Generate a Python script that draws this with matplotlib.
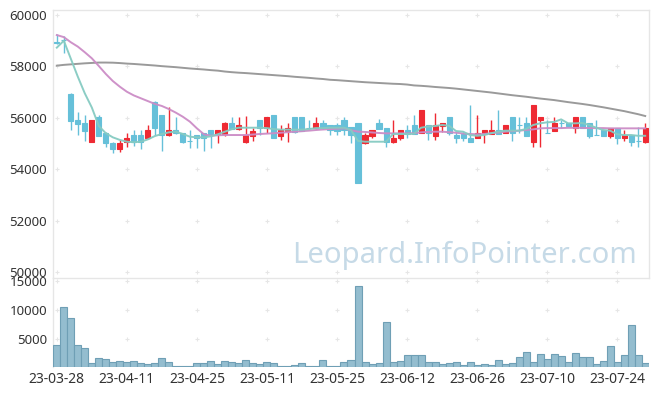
import matplotlib
matplotlib.use("Agg")
import matplotlib.pyplot as plt
import numpy as np

dates = ["23-03-28","23-03-29","23-03-30","23-03-31",
         "23-04-03","23-04-04","23-04-05","23-04-06","23-04-07",
         "23-04-10","23-04-11","23-04-12","23-04-13","23-04-14",
         "23-04-17","23-04-18","23-04-19","23-04-20","23-04-21",
         "23-04-24","23-04-25","23-04-26","23-04-27","23-04-28",
         "23-05-02","23-05-03","23-05-04",
         "23-05-08","23-05-09","23-05-10","23-05-11","23-05-12",
         "23-05-15","23-05-16","23-05-17","23-05-18","23-05-19",
         "23-05-22","23-05-23","23-05-24","23-05-25","23-05-26",
         "23-05-30","23-05-31","23-06-01","23-06-02",
         "23-06-05","23-06-07","23-06-08","23-06-09",
         "23-06-12","23-06-13","23-06-14","23-06-15","23-06-16",
         "23-06-19","23-06-20","23-06-21","23-06-22","23-06-23",
         "23-06-26","23-06-27","23-06-28","23-06-29","23-06-30",
         "23-07-03","23-07-04","23-07-05","23-07-06","23-07-07",
         "23-07-10","23-07-11","23-07-12","23-07-13","23-07-14",
         "23-07-17","23-07-18","23-07-19","23-07-20","23-07-21",
         "23-07-24","23-07-25","23-07-26","23-07-27","23-07-28"]

open_ = [58950, 59040, 56930, 55920, 55810, 55070, 56040, 55400, 55010, 54800,
         55070, 55330, 55330, 55200, 56630, 56110, 55330, 55525, 55400, 55100,
         55330, 55395, 55525, 55370, 55370, 55785, 55565, 55070, 55300, 55915,
         55590, 56110, 55290, 55500, 56020, 56020, 55600, 55590, 55785, 55720,
         55720, 55915, 55655, 55785, 55010, 55300, 55785, 55590, 55070, 55200,
         55525, 55720, 55395, 55720, 55300, 55690, 56020, 55330, 55370, 55225,
         55200, 55360, 55360, 55525, 55395, 56020, 55720, 55785, 55070, 55915,
         55400, 55500, 55785, 55810, 55590, 56020, 55785, 55350, 55525, 55290,
         55615, 55200, 55330, 55100, 55070]
high = [59280, 59180, 56980, 56220, 56110, 55930, 56110, 55460, 55050, 55130,
        55400, 55530, 55530, 55720, 56650, 56110, 56410, 56020, 55420, 55525,
        55330, 55395, 55525, 55525, 55850, 56020, 56020, 56080, 55590, 55915,
        56020, 56110, 55720, 55785, 56020, 56020, 55915, 56020, 55915, 55720,
        55785, 56020, 55655, 55785, 55400, 55525, 55940, 55590, 55915, 55525,
        55720, 56110, 56300, 55720, 56200, 55785, 56020, 55460, 55460, 56500,
        56110, 55525, 55915, 56300, 55720, 56020, 56020, 56020, 56500, 56020,
        55915, 56020, 55915, 55810, 56020, 56020, 55785, 55900, 55525, 55615,
        55615, 55525, 55330, 55660, 55810]
low = [58880, 58520, 55520, 55330, 55110, 55050, 55290, 54880, 54620, 54680,
       54880, 54900, 54800, 55180, 55330, 54720, 55300, 55380, 55010, 54810,
       54810, 54710, 54810, 55010, 55300, 55560, 55540, 55010, 55100, 55330,
       55400, 55200, 55120, 55070, 55400, 55500, 55590, 55560, 55560, 55330,
       55330, 55330, 55010, 53475, 55000, 55200, 55565, 54880, 55010, 55130,
       55200, 55360, 55395, 55140, 55140, 55460, 55330, 55010, 55100, 55070,
       55200, 55010, 55360, 55360, 55395, 55100, 55400, 55290, 54880, 54880,
       55400, 55480, 55600, 55690, 55400, 55590, 55200, 55330, 55290, 55200,
       55000, 55100, 54900, 54880, 55010]
close = [58900, 59030, 55890, 55760, 55500, 55915, 55300, 55010, 54800, 55010,
         55215, 55070, 55070, 55525, 55590, 55330, 55525, 55400, 55070, 55100,
         55200, 55200, 55360, 55525, 55785, 55565, 55720, 55330, 55500, 55590,
         56020, 55200, 55525, 55615, 55460, 55500, 55600, 55810, 55590, 55525,
         55500, 55525, 55330, 53480, 55330, 55525, 55565, 55050, 55225, 55525,
         55360, 55360, 56300, 55395, 55720, 55785, 55400, 55200, 55200, 55070,
         55395, 55525, 55525, 55360, 55720, 55420, 55720, 55300, 56500, 56020,
         55400, 55785, 55785, 55690, 56020, 55590, 55290, 55350, 55290, 55615,
         55200, 55330, 55070, 55100, 55590]
volume = [3900, 10560, 8540, 3890, 3310, 700, 1570, 1390, 870, 1100,
          920, 1100, 750, 575, 750, 1570, 920, 230, 230, 230,
          750, 750, 1100, 575, 1100, 920, 750, 1270, 750, 575,
          920, 750, 230, 230, 400, 750, 230, 230, 1270, 230,
          230, 920, 1270, 14160, 920, 575, 750, 7890, 920, 1100,
          2140, 2140, 2140, 920, 920, 575, 750, 920, 400, 920,
          400, 575, 400, 1270, 575, 750, 1740, 2665, 920, 2320,
          1450, 2320, 1970, 920, 2490, 1800, 1800, 575, 1100, 3710,
          920, 2140, 7300, 2140, 750]
ma5 = [58730, 59000, 58300, 57600, 56950, 56400, 55680, 55400, 55240, 55140,
       55070, 55050, 55070, 55160, 55290, 55370, 55435, 55460, 55370, 55265,
       55240, 55240, 55280, 55360, 55460, 55560, 55615, 55615, 55615, 55615,
       55600, 55560, 55540, 55540, 55540, 55540, 55560, 55600, 55600, 55615,
       55615, 55615, 55525, 55100, 55070, 55070, 55070, 55070, 55370, 55370,
       55370, 55380, 55615, 55660, 55680, 55720, 55690, 55485, 55460, 55330,
       55300, 55330, 55400, 55460, 55500, 55500, 55500, 55565, 55720, 55785,
       55825, 55840, 55940, 55785, 55785, 55800, 55720, 55615, 55525, 55500,
       55360, 55330, 55330, 55300, 55300]
ma20 = [59220, 59140, 58940, 58770, 58550, 58315, 58015, 57705, 57430, 57210,
        57015, 56870, 56760, 56650, 56540, 56460, 56340, 56200, 56040, 55850,
        55590, 55360, 55300, 55320, 55330, 55330, 55330, 55330, 55350, 55370,
        55385, 55400, 55420, 55440, 55460, 55480, 55500, 55525, 55545, 55560,
        55575, 55590, 55520, 55460, 55450, 55430, 55410, 55395, 55395, 55395,
        55395, 55400, 55435, 55450, 55460, 55460, 55440, 55420, 55390, 55370,
        55360, 55370, 55400, 55430, 55460, 55480, 55500, 55525, 55550, 55590,
        55600, 55600, 55600, 55610, 55610, 55610, 55600, 55600, 55600, 55590,
        55590, 55590, 55590, 55590, 55590]
ma120 = [58030, 58060, 58080, 58100, 58120, 58135, 58150, 58150, 58145, 58130,
         58110, 58095, 58075, 58055, 58035, 58010, 57990, 57970, 57945, 57920,
         57900, 57880, 57855, 57835, 57800, 57775, 57755, 57740, 57720, 57700,
         57680, 57660, 57640, 57620, 57595, 57575, 57555, 57530, 57510, 57480,
         57465, 57445, 57425, 57405, 57385, 57370, 57355, 57340, 57325, 57315,
         57295, 57260, 57245, 57225, 57200, 57180, 57160, 57135, 57105, 57075,
         57045, 57015, 56985, 56950, 56915, 56880, 56850, 56820, 56785, 56750,
         56720, 56690, 56650, 56610, 56575, 56540, 56500, 56455, 56410, 56360,
         56310, 56260, 56200, 56140, 56070]

price_ticks = [50000, 52000, 54000, 56000, 58000, 60000]
vol_ticks = [5000, 10000, 15000]
label_idx = list(range(0, 85, 10))

UP = "#ee2a33"
DOWN = "#66c0d9"
GRID = "#e6e6e6"
SPINE = "#e6e6e6"
TXT = "#333333"
FONT = "Noto Sans"

W, H = 657, 396
fig = plt.figure(figsize=(W / 100, H / 100), dpi=100)
L, R = 53.3, 648.7
ax = fig.add_axes([L / W, 1 - 278.3 / H, (R - L) / W, (278.3 - 10) / H])
axv = fig.add_axes([L / W, 1 - 367.3 / H, (R - L) / W, (367.3 - 278.3) / H], sharex=ax)

n = len(dates)
x = np.arange(n)
o = np.array(open_); c = np.array(close); hi = np.array(high); lo = np.array(low)
cols = [UP if cc > oo else DOWN for oo, cc in zip(o, c)]

ax.vlines(x, lo, hi, colors=cols, linewidth=1.0, zorder=3)
ax.bar(x, np.abs(c - o), bottom=np.minimum(o, c), width=0.72, color=cols,
       edgecolor=cols, linewidth=0.8, zorder=4)

ax.plot(x, ma120, color="#9a9a9a", linewidth=1.4, zorder=2)
ax.plot(x, ma20, color="#cc8cc6", linewidth=1.4, zorder=5, alpha=0.95)
ax.plot(x, ma5, color="#86cbc2", linewidth=1.4, zorder=5, alpha=0.95)

ax.set_xlim(-0.5, n - 0.5)
ax.set_ylim(49755, 60195)
ax.set_yticks(price_ticks)
ax.set_yticklabels([str(v) for v in price_ticks])

gx, gy = np.meshgrid(label_idx, price_ticks)
ax.scatter(gx.ravel(), gy.ravel(), marker="+", s=12, color=GRID, linewidths=0.8, zorder=1)

axv.bar(x, volume, width=1.0, color="#94bdcf", edgecolor="#6f9fb5", linewidth=0.8, zorder=3)
axv.set_ylim(0, 15500)
axv.set_yticks(vol_ticks)
axv.set_yticklabels([str(v) for v in vol_ticks])
gx2, gy2 = np.meshgrid(label_idx, vol_ticks)
axv.scatter(gx2.ravel(), gy2.ravel(), marker="+", s=12, color=GRID, linewidths=0.8, zorder=1)
axv.set_xticks(label_idx)
axv.set_xticklabels([dates[i] for i in label_idx])

for a in (ax, axv):
    a.tick_params(length=0, pad=4.5, colors=TXT, labelsize=9.5)
    for lab in a.get_xticklabels() + a.get_yticklabels():
        lab.set_fontfamily(FONT)
    for s in a.spines.values():
        s.set_color(SPINE)
        s.set_linewidth(1.0)
    a.set_facecolor("none")

ax.tick_params(axis="x", labelbottom=False)
axv.spines["top"].set_visible(False)
axv.spines["right"].set_visible(False)
axv.spines["bottom"].set_visible(False)
axv.tick_params(axis="x", pad=3.5, labelsize=10)

fig.text(637 / W, 1 - 263 / H, "Leopard.InfoPointer.com", ha="right", va="baseline",
         fontsize=21, color="#c6dae7", family=FONT, zorder=0)

fig.savefig("out.png", dpi=100)
